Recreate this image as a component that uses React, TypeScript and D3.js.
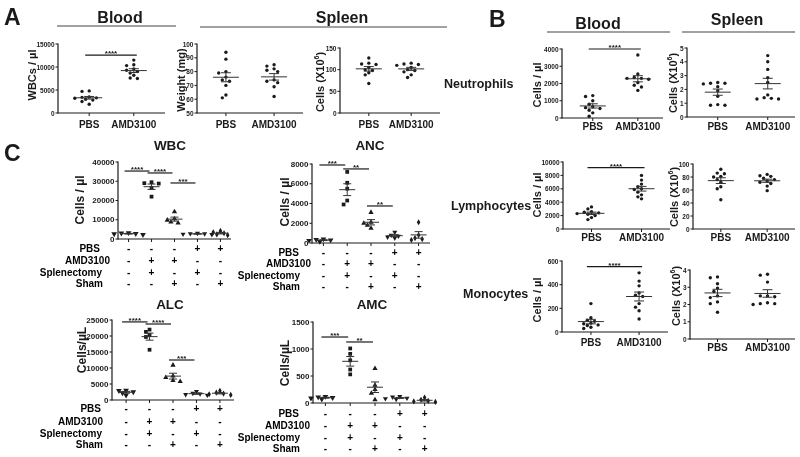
import React from "react";
import * as d3 from "d3";

const FONT = "'Liberation Sans', Arial, Helvetica, sans-serif";
const INK = "#1a1a1a";

// ---------- categories ----------
const abGroups = ["PBS", "AMD3100"];
const cGroups = ["PBS", "AMD3100+Splenectomy", "AMD3100+Sham", "PBS+Splenectomy", "PBS+Sham"];
const cRowLabels = ["PBS", "AMD3100", "Splenectomy", "Sham"];
const cSigns = [
  ["-", "-", "-", "+", "+"],
  ["-", "+", "+", "-", "-"],
  ["-", "+", "-", "+", "-"],
  ["-", "-", "+", "-", "+"],
];

// ---------- panel A ----------
const wbcBloodPBS = [4800, 4700, 3500, 3400, 3300, 3200, 3000, 2800, 2500, 1900];
const wbcBloodAMD = [11500, 10500, 10300, 9600, 9300, 9000, 8700, 8200, 7600, 7500];
const spleenWeightPBS = [94, 89, 80, 79, 76, 74, 73, 70, 63, 61];
const spleenWeightAMD = [85, 84, 82, 81, 80, 74, 73, 72, 69, 62];
const spleenCellsPBS = [127, 115, 113, 112, 105, 100, 98, 93, 88, 68];
const spleenCellsAMD = [115, 113, 112, 110, 105, 100, 98, 95, 88, 82];

// ---------- panel B ----------
const neutBloodPBS = [1300, 1250, 1000, 800, 650, 600, 550, 450, 300, 100];
const neutBloodAMD = [3650, 2550, 2350, 2300, 2300, 2250, 2050, 1900, 1800, 1600];
const neutSpleenPBS = [2.5, 2.45, 2.45, 2.4, 2.2, 1.9, 1.5, 0.9, 0.85, 0.85];
const neutSpleenAMD = [4.45, 4.0, 3.45, 2.85, 2.5, 1.6, 1.4, 1.3, 1.3, 1.35];
const lymphBloodPBS = [3300, 3000, 2600, 2500, 2400, 2300, 2200, 2000, 1700, 1400];
const lymphBloodAMD = [8000, 7300, 6700, 6300, 6000, 5900, 5500, 5100, 4800, 4500];
const lymphSpleenPBS = [92, 86, 85, 81, 80, 76, 72, 65, 62, 45];
const lymphSpleenAMD = [84, 82, 81, 78, 76, 74, 72, 70, 66, 59];
const monoBloodPBS = [240, 120, 100, 90, 75, 70, 60, 55, 40, 30];
const monoBloodAMD = [500, 430, 390, 330, 310, 300, 240, 210, 180, 110];
const monoSpleenPBS = [3.6, 3.55, 3.2, 2.95, 2.75, 2.5, 2.4, 2.15, 2.05, 1.55];
const monoSpleenAMD = [3.75, 3.7, 3.3, 2.5, 2.5, 2.45, 2.1, 2.05, 2.05, 2.0];

// ---------- panel C ----------
const wbcC = [
  [3200, 3000, 2800, 2600, 2200],
  [29500, 29000, 28800, 26500, 22000],
  [14200, 10500, 9800, 8800, 8300],
  [3000, 2800, 2700, 2500, 2300],
  [4200, 3500, 3000, 2400, 2000],
];
const ancC = [
  [400, 350, 300, 250, 150],
  [7200, 6100, 5500, 4300, 3900],
  [3100, 2100, 2000, 1800, 1500],
  [1100, 800, 700, 600, 500],
  [2100, 800, 500, 400, 300],
];
const alcC = [
  [3000, 2900, 2500, 2200, 1500],
  [22000, 21300, 20300, 19700, 15700],
  [10900, 7500, 7000, 6100, 5800],
  [2700, 2100, 1900, 1700, 1500],
  [2900, 2300, 2000, 1800, 1600],
];
const amcC = [
  [120, 110, 100, 90, 70],
  [1010, 910, 790, 620, 530],
  [640, 330, 250, 180, 60],
  [120, 110, 90, 80, 70],
  [100, 60, 40, 30, 20],
];

// ---------- ticks ----------
const ticksWbcA = [0, 5000, 10000, 15000];
const ticksWeight = [50, 60, 70, 80, 90, 100];
const ticksCellsA = [0, 50, 100, 150];
const ticksNeutBlood = [0, 1000, 2000, 3000, 4000];
const ticksNeutSpleen = [0, 1, 2, 3, 4, 5];
const ticksLymphBlood = [0, 2000, 4000, 6000, 8000, 10000];
const ticksLymphSpleen = [0, 20, 40, 60, 80, 100];
const ticksMonoBlood = [0, 200, 400, 600];
const ticksMonoSpleen = [0, 1, 2, 3, 4];
const ticksWbcC = [0, 10000, 20000, 30000, 40000];
const ticksAncC = [0, 2000, 4000, 6000, 8000];
const ticksAlcC = [0, 5000, 10000, 15000, 20000, 25000];
const ticksAmcC = [0, 500, 1000, 1500];

type Sym = { type: d3.SymbolType; rot?: number; size: number };
type Sig = { a: number; b: number; y: number; label: string };

const circ: Sym = { type: d3.symbolCircle, size: 9 };
const abSyms = [circ, circ];
const cSyms: Sym[] = [
  { type: d3.symbolTriangle, rot: 180, size: 14 },
  { type: d3.symbolSquare, size: 14 },
  { type: d3.symbolTriangle, size: 12 },
  { type: d3.symbolTriangle, rot: 180, size: 11 },
  { type: d3.symbolDiamond, size: 11 },
];

function swarm(vals: number[], y: (v: number) => number, step: number, minDist: number) {
  const idx = vals.map((_, i) => i).sort((a, b) => vals[b] - vals[a]);
  const placed: { x: number; y: number }[] = [];
  const out = new Array(vals.length).fill(0);
  for (const i of idx) {
    const py = y(vals[i]);
    for (let k = 0; k < 30; k++) {
      const m = Math.ceil(k / 2);
      const off = k === 0 ? 0 : k % 2 === 1 ? -m * step : m * step;
      if (placed.every((p) => Math.hypot(p.x - off, p.y - py) >= minDist)) {
        out[i] = off;
        placed.push({ x: off, y: py });
        break;
      }
    }
  }
  return out;
}

interface PanelProps {
  x0: number; x1: number; yTop: number; yBot: number;
  domain: [number, number]; ticks: number[];
  cats: string[]; pad: number; align?: number;
  series: number[][]; syms: Sym[];
  sig?: Sig[]; sigOff?: [number, number];
  tickFont: number; meanHW: number; capHW: number;
  step: number; minDist: number;
  catLabelY?: number; catFont?: number;
  yLabel: React.ReactNode; yLabelX: number; yLabelY: number; yLabelFont?: number;
}

function Panel(p: PanelProps) {
  const y = d3.scaleLinear().domain(p.domain).range([p.yBot, p.yTop]);
  const x = d3.scalePoint<string>().domain(p.cats).range([p.x0, p.x1]).padding(p.pad).align(p.align ?? 0.5);
  const sigOff = p.sigOff ?? [-4, 3];
  return (
    <g>
      <line x1={p.x0} x2={p.x0} y1={p.yTop - 0.5} y2={p.yBot + 0.6} stroke={INK} strokeWidth={1.2} />
      <line x1={p.x0} x2={p.x1} y1={p.yBot} y2={p.yBot} stroke={INK} strokeWidth={1.2} />
      {p.ticks.map((t) => (
        <g key={t}>
          <line x1={p.x0 - 2.5} x2={p.x0} y1={y(t)} y2={y(t)} stroke={INK} strokeWidth={1} />
          <text x={p.x0 - 3.5} y={y(t)} textAnchor="end" dominantBaseline="central"
            fontSize={p.tickFont} fontWeight="bold" fill={INK}>{t}</text>
        </g>
      ))}
      {p.cats.map((c) => (
        <line key={c} x1={x(c)} x2={x(c)} y1={p.yBot} y2={p.yBot + 3} stroke={INK} strokeWidth={1} />
      ))}
      {p.catLabelY !== undefined &&
        p.cats.map((c) => (
          <text key={c} x={x(c)} y={p.catLabelY} textAnchor="middle" dominantBaseline="central"
            fontSize={p.catFont ?? 10} fontWeight="bold" fill={INK}>{c}</text>
        ))}
      {p.series.map((vals, gi) => {
        const gx = x(p.cats[gi]) as number;
        const offs = swarm(vals, y, p.step, p.minDist);
        const mean = d3.mean(vals) as number;
        const sem = (d3.deviation(vals) as number) / Math.sqrt(vals.length);
        const s = p.syms[gi];
        const path = d3.symbol().type(s.type).size(s.size)() as string;
        return (
          <g key={gi}>
            {vals.map((v, i) => (
              <path key={i} d={path} fill={INK}
                transform={`translate(${gx + offs[i]},${y(v)}) rotate(${s.rot ?? 0})`} />
            ))}
            <g stroke="#333" strokeWidth={1}>
              <line x1={gx - p.meanHW} x2={gx + p.meanHW} y1={y(mean)} y2={y(mean)} />
              <line x1={gx} x2={gx} y1={y(mean - sem)} y2={y(mean + sem)} />
              <line x1={gx - p.capHW} x2={gx + p.capHW} y1={y(mean + sem)} y2={y(mean + sem)} />
              <line x1={gx - p.capHW} x2={gx + p.capHW} y1={y(mean - sem)} y2={y(mean - sem)} />
            </g>
          </g>
        );
      })}
      {(p.sig ?? []).map((s, i) => {
        const xa = (x(p.cats[s.a]) as number) + sigOff[0];
        const xb = (x(p.cats[s.b]) as number) + sigOff[1];
        return (
          <g key={i}>
            <line x1={xa} x2={xb} y1={y(s.y)} y2={y(s.y)} stroke={INK} strokeWidth={1.2} />
            <text x={(xa + xb) / 2} y={y(s.y) + 1} textAnchor="middle" fontSize={8} fontWeight="bold" fill={INK}>
              {s.label}
            </text>
          </g>
        );
      })}
      <text transform={`translate(${p.yLabelX},${p.yLabelY}) rotate(-90)`} textAnchor="middle"
        dominantBaseline="central" fontSize={p.yLabelFont ?? 11} fontWeight="bold" fill={INK}>
        {p.yLabel}
      </text>
    </g>
  );
}

const cellsX6 = (
  <>
    Cells (X10<tspan dy={-4} fontSize={7}>6</tspan><tspan dy={4}>)</tspan>
  </>
);

function SignTable(props: { x: d3.ScalePoint<string>; rowsY: number[]; labelRight: number[] }) {
  return (
    <g fontWeight="bold" fill="#000" fontSize={10}>
      {cRowLabels.map((lab, r) => (
        <g key={lab}>
          <text x={props.labelRight[r]} y={props.rowsY[r]} textAnchor="end" dominantBaseline="central">{lab}</text>
          {cGroups.map((g, gi) => (
            <text key={g} x={props.x(g)} y={props.rowsY[r]} textAnchor="middle" dominantBaseline="central">
              {cSigns[r][gi]}
            </text>
          ))}
        </g>
      ))}
    </g>
  );
}

const abCommon = { cats: abGroups, syms: abSyms, meanHW: 13, capHW: 5, step: 3.6, minDist: 4, catFont: 10 };
const cCommon = { cats: cGroups, syms: cSyms, meanHW: 8, capHW: 4, step: 3.6, minDist: 4, tickFont: 8, sigOff: [-4, -2] as [number, number] };

const cPanels = [
  { key: "WBC", title: "WBC", tx: 170, ty: 150, x0: 118, x1: 231, pad: 0.46, yTop: 162, yBot: 239, domain: [0, 40000] as [number, number], ticks: ticksWbcC, series: wbcC,
    sig: [{ a: 0, b: 1, y: 35300, label: "****" }, { a: 1, b: 2, y: 34300, label: "****" }, { a: 2, b: 3, y: 29100, label: "***" }],
    yLabel: "Cells / µl", yLabelX: 80, yLabelY: 200, rowsY: [248, 260, 272, 283], labelRight: [100, 110, 102, 103] },
  { key: "ANC", title: "ANC", tx: 370, ty: 150, x0: 312, x1: 430, pad: 0.48, yTop: 164, yBot: 243, domain: [0, 8000] as [number, number], ticks: ticksAncC, series: ancC,
    sig: [{ a: 0, b: 1, y: 7900, label: "***" }, { a: 1, b: 2, y: 7500, label: "**" }, { a: 2, b: 3, y: 3750, label: "**" }],
    yLabel: "Cells / µl", yLabelX: 285, yLabelY: 202, rowsY: [252, 263, 275, 286], labelRight: [299, 311, 300, 300] },
  { key: "ALC", title: "ALC", tx: 170, ty: 309, x0: 112, x1: 234, pad: 0.6, yTop: 320, yBot: 400, domain: [0, 25000] as [number, number], ticks: ticksAlcC, series: alcC,
    sig: [{ a: 0, b: 1, y: 24400, label: "****" }, { a: 1, b: 2, y: 23750, label: "****" }, { a: 2, b: 3, y: 12500, label: "***" }],
    yLabel: "Cells/µL", yLabelX: 82, yLabelY: 350, rowsY: [408, 421, 433, 444], labelRight: [101, 103, 102, 103] },
  { key: "AMC", title: "AMC", tx: 372, ty: 309, x0: 313, x1: 437, pad: 0.5, yTop: 322, yBot: 403, domain: [0, 1500] as [number, number], ticks: ticksAmcC, series: amcC,
    sig: [{ a: 0, b: 1, y: 1222, label: "***" }, { a: 1, b: 2, y: 1130, label: "**" }],
    yLabel: "Cells/µL", yLabelX: 285, yLabelY: 363, rowsY: [413, 425, 437, 448], labelRight: [299, 310, 300, 300] },
];

export default function App() {
  return (
    <svg width={800} height={457} viewBox="0 0 800 457"
      style={{ position: "absolute", left: 0, top: 0, background: "#fff" }} fontFamily={FONT}>
      <rect width={800} height={457} fill="#fff" />
      <g opacity={0.999}>
        <text x={4} y={25} fontSize={23} fontWeight="bold" fill={INK}>A</text>
        <text x={489} y={27} fontSize={23} fontWeight="bold" fill={INK}>B</text>
        <text x={4} y={161} fontSize={23} fontWeight="bold" fill={INK}>C</text>

        <text x={120} y={23} textAnchor="middle" fontSize={16} fontWeight="bold" fill={INK}>Blood</text>
        <line x1={57} x2={176} y1={26} y2={26} stroke="#444" strokeWidth={1.2} />
        <text x={342} y={23} textAnchor="middle" fontSize={16} fontWeight="bold" fill={INK}>Spleen</text>
        <line x1={200} x2={447} y1={27} y2={27} stroke="#444" strokeWidth={1.2} />

        <Panel {...abCommon} x0={58} x1={165} pad={0.7} align={0.5} yTop={44} yBot={113} domain={[0, 15000]}
          ticks={ticksWbcA} series={[wbcBloodPBS, wbcBloodAMD]} tickFont={6.5}
          sig={[{ a: 0, b: 1, y: 12600, label: "****" }]}
          catLabelY={124} yLabel="WBCs / µl" yLabelX={32} yLabelY={75} />
        <Panel {...abCommon} x0={197} x1={303} pad={0.6} align={0.5} yTop={44} yBot={113} domain={[50, 100]}
          ticks={ticksWeight} series={[spleenWeightPBS, spleenWeightAMD]} tickFont={6.5}
          catLabelY={124} yLabel="Weight (mg)" yLabelX={181} yLabelY={80} />
        <Panel {...abCommon} x0={340} x1={440} pad={0.68} align={0.5} yTop={48} yBot={113} domain={[0, 150]}
          ticks={ticksCellsA} series={[spleenCellsPBS, spleenCellsAMD]} tickFont={6.5}
          catLabelY={124} yLabel={cellsX6} yLabelX={320} yLabelY={82} />

        <text x={598} y={29} textAnchor="middle" fontSize={16} fontWeight="bold" fill={INK}>Blood</text>
        <line x1={547} x2={670} y1={32} y2={32} stroke="#444" strokeWidth={1.2} />
        <text x={737} y={25} textAnchor="middle" fontSize={16} fontWeight="bold" fill={INK}>Spleen</text>
        <line x1={682} x2={795} y1={32} y2={32} stroke="#444" strokeWidth={1.2} />

        <text x={444} y={88} fontSize={12.5} fontWeight="bold" fill={INK}>Neutrophils</text>
        <text x={451} y={210} fontSize={12.5} fontWeight="bold" fill={INK}>Lymphocytes</text>
        <text x={463} y={298} fontSize={12.5} fontWeight="bold" fill={INK}>Monocytes</text>

        <Panel {...abCommon} x0={562} x1={663} pad={0.62} align={0.55} yTop={49} yBot={118} domain={[0, 4000]}
          ticks={ticksNeutBlood} series={[neutBloodPBS, neutBloodAMD]} tickFont={6.5}
          sig={[{ a: 0, b: 1, y: 4000, label: "****" }]}
          catLabelY={126} yLabel="Cells / µl" yLabelX={537} yLabelY={85} />
        <Panel {...abCommon} x0={687} x1={795} pad={0.58} align={0.53} yTop={48} yBot={117} domain={[0, 5]}
          ticks={ticksNeutSpleen} series={[neutSpleenPBS, neutSpleenAMD]} tickFont={6.5}
          catLabelY={126} yLabel={cellsX6} yLabelX={673} yLabelY={83} />

        <Panel {...abCommon} x0={563} x1={670} pad={0.57} align={0.5} yTop={162} yBot={229} domain={[0, 10000]}
          ticks={ticksLymphBlood} series={[lymphBloodPBS, lymphBloodAMD]} tickFont={6.5}
          sig={[{ a: 0, b: 1, y: 9150, label: "****" }]}
          catLabelY={237} yLabel="Cells / µl" yLabelX={537} yLabelY={195} />
        <Panel {...abCommon} x0={693} x1={795} pad={0.6} align={0.5} yTop={164} yBot={229} domain={[0, 100]}
          ticks={ticksLymphSpleen} series={[lymphSpleenPBS, lymphSpleenAMD]} tickFont={6.5}
          catLabelY={237} yLabel={cellsX6} yLabelX={674} yLabelY={197} />

        <Panel {...abCommon} x0={562} x1={668} pad={0.6} align={0.5} yTop={261} yBot={332} domain={[0, 600]}
          ticks={ticksMonoBlood} series={[monoBloodPBS, monoBloodAMD]} tickFont={6.5}
          sig={[{ a: 0, b: 1, y: 552, label: "****" }]}
          catLabelY={342} yLabel="Cells / µl" yLabelX={537} yLabelY={300} />
        <Panel {...abCommon} x0={690} x1={795} pad={0.55} align={0.5} yTop={270} yBot={339} domain={[0, 4]}
          ticks={ticksMonoSpleen} series={[monoSpleenPBS, monoSpleenAMD]} tickFont={6.5}
          catLabelY={347} yLabel={cellsX6} yLabelX={676} yLabelY={296} />

        {cPanels.map((c) => {
          const xs = d3.scalePoint<string>().domain(cGroups).range([c.x0, c.x1]).padding(c.pad).align(0.5);
          return (
            <g key={c.key}>
              <text x={c.tx} y={c.ty} textAnchor="middle" fontSize={13.5} fontWeight="bold" fill={INK}>{c.title}</text>
              <Panel {...cCommon} x0={c.x0} x1={c.x1} pad={c.pad} yTop={c.yTop} yBot={c.yBot} domain={c.domain}
                ticks={c.ticks} series={c.series} sig={c.sig}
                yLabel={c.yLabel} yLabelX={c.yLabelX} yLabelY={c.yLabelY} yLabelFont={12} />
              <SignTable x={xs} rowsY={c.rowsY} labelRight={c.labelRight} />
            </g>
          );
        })}
      </g>
    </svg>
  );
}
